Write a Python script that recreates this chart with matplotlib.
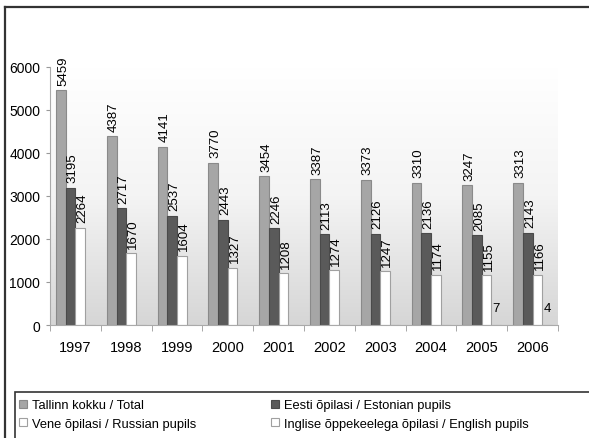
import numpy as np
import matplotlib.pyplot as plt
from matplotlib.colors import LinearSegmentedColormap
from matplotlib.patches import Rectangle
from matplotlib.lines import Line2D

plt.rcParams['font.family'] = ['Liberation Sans', 'DejaVu Sans']

years = ['1997', '1998', '1999', '2000', '2001', '2002', '2003', '2004', '2005', '2006']
total = [5459, 4387, 4141, 3770, 3454, 3387, 3373, 3310, 3247, 3313]
estonian = [3195, 2717, 2537, 2443, 2246, 2113, 2126, 2136, 2085, 2143]
russian = [2264, 1670, 1604, 1327, 1208, 1274, 1247, 1174, 1155, 1166]
english = [0, 0, 0, 0, 0, 0, 0, 0, 7, 4]
names = ['Tallinn kokku / Total', 'Eesti õpilasi / Estonian pupils',
         'Vene õpilasi / Russian pupils', 'Inglise õppekeelega õpilasi / English pupils']

W, H = 589, 439
fig = plt.figure(figsize=(W / 100, H / 100), dpi=100)
ax = fig.add_axes([50 / W, 1 - 326 / H, 508 / W, (326 - 68) / H])

# gradient plot area
cmap = LinearSegmentedColormap.from_list('bg', ['#d6d6d6', '#f4f4f4', '#ffffff'])
grad = np.linspace(0, 1, 256).reshape(-1, 1)
ax.imshow(grad, aspect='auto', cmap=cmap, origin='lower',
          extent=[-0.5, 9.5, 0, 6000], zorder=0)

x = np.arange(len(years))
w = 0.19
series = [(total, '#a6a6a6', '#8a8a8a'), (estonian, '#5a5a5a', '#4a4a4a'),
          (russian, '#ffffff', '#a0a0a0'), (english, '#ffffff', '#a0a0a0')]
handles = []
for i, (vals, fc, ec) in enumerate(series):
    pos = x + (i - 1.5) * w
    b = ax.bar(pos, vals, w, color=fc, edgecolor=ec, linewidth=0.8, zorder=2,
               label=names[i])
    handles.append(b)
    for px, v in zip(pos, vals):
        if v == 0:
            continue
        if i < 3:
            ax.annotate(str(v), (px, v), xytext=(1.5, 4), textcoords='offset points',
                        rotation=90, ha='center', va='bottom', fontsize=9.5)
        else:
            ax.annotate(str(v), (px, v), xytext=(0, 8), textcoords='offset points',
                        ha='center', va='bottom', fontsize=9.5)

ax.set_xlim(-0.5, 9.5)
ax.set_ylim(0, 6000)
ax.set_yticks(np.arange(0, 6001, 1000))
ax.set_xticks(x)
ax.set_xticklabels(years, fontsize=10.5)
ax.set_xticks(np.arange(-0.5, 10, 1), minor=True)
ax.tick_params(axis='x', which='major', length=0, pad=11)
ax.tick_params(axis='x', which='minor', length=4, color='#999999', direction='out')
ax.tick_params(axis='y', length=3, color='#999999', labelsize=10, pad=4)
for s in ['top', 'right']:
    ax.spines[s].set_visible(False)
ax.spines['left'].set_color('#aaaaaa')
ax.spines['bottom'].set_color('#aaaaaa')

# outer frame
fig.add_artist(Line2D([5 / W, 5 / W], [0, 1 - 8 / H], color='#333333', lw=1.6))
fig.add_artist(Line2D([5 / W, 1], [1 - 8 / H, 1 - 8 / H], color='#333333', lw=1.6))

# legend box
fig.add_artist(Rectangle((15 / W, -0.02), 1, (439 - 393) / H + 0.02,
                         transform=fig.transFigure, facecolor='white',
                         edgecolor='#333333', lw=1.2, zorder=1))
order = [0, 2, 1, 3]
leg = fig.legend(handles=[handles[k] for k in order], loc='upper left',
                 bbox_to_anchor=(14 / W, 1 - 395 / H),
                 ncol=2, frameon=False, fontsize=9.3, handlelength=0.6, handleheight=0.6,
                 handletextpad=0.4, columnspacing=5.8, labelspacing=0.5,
                 borderaxespad=0)
leg.set_zorder(3)

fig.savefig('out.png', dpi=100)
